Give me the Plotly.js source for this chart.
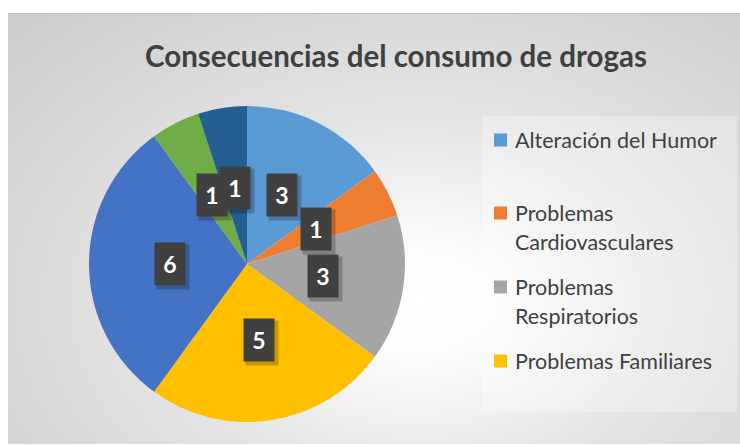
<!DOCTYPE html>
<html>
<head>
<meta charset="utf-8">
<script src="https://cdn.plot.ly/plotly-3.0.1.min.js"></script>
<style>
  html, body { margin: 0; padding: 0; background: #ffffff; }
  #wrap { position: relative; width: 740px; height: 445px; }
  #bg { position: absolute; left: 8px; top: 13px; width: 732px; height: 431px;
        background: radial-gradient(farthest-corner at 56% 67%, #ffffff 0%, #fdfdfd 12%, #e4e4e4 45%, #cbcbcb 100%);
        border-top: 1px solid #bdbdbd; box-sizing: border-box; }
  #legbg { position: absolute; left: 482px; top: 116px; width: 255px; height: 296px;
        background: rgba(255,255,255,0.3); }
  #chart { position: absolute; left: 0; top: 0; width: 740px; height: 445px; }
</style>
</head>
<body>
<div id="wrap">
  <div id="bg"></div>
  <div id="legbg"></div>
  <div id="chart"></div>
</div>
<script>
// ---- data ----
const categories = ["Alteración del Humor", "Problemas Cardiovasculares", "Problemas Respiratorios", "Problemas Familiares", "Categoría 5", "Categoría 6", "Categoría 7"];
const values = [3, 1, 3, 5, 6, 1, 1];
const sliceColors = ["#5B9BD5", "#ED7D31", "#A5A5A5", "#FFC000", "#4472C4", "#70AD47", "#255E91"];
const legendLines = [["Alteración del Humor"], ["Problemas", "Cardiovasculares"], ["Problemas", "Respiratorios"], ["Problemas Familiares"]];
const titleText = "Consecuencias del consumo de drogas";

// ---- layout constants ----
const W = 740, H = 445;
const pieCx = 247, pieCy = 264, pieR = 158;   // pixels
const dom = { x: [(pieCx - pieR) / W, (pieCx + pieR) / W], y: [(H - pieCy - pieR) / H, (H - pieCy + pieR) / H] };
const FONT = "Lato, 'Open Sans', sans-serif";

const trace = {
  type: "pie",
  labels: categories,
  values: values,
  sort: false,
  direction: "clockwise",
  rotation: 0,
  marker: { colors: sliceColors, line: { width: 0 } },
  textinfo: "none",
  hoverinfo: "label+value",
  domain: dom,
  showlegend: false
};

const annotations = [];
const shapes = [];

// data labels placed at mid-angle of each slice, computed from the values
const total = values.reduce((a, b) => a + b, 0);
const cxp = (dom.x[0] + dom.x[1]) / 2, cyp = (dom.y[0] + dom.y[1]) / 2;
let cum = 0;
const labelPos = values.map(v => {
  const mid = (cum + v / 2) / total * 2 * Math.PI;
  cum += v;
  const rr = pieR * 0.49;
  return { x: cxp + rr * Math.sin(mid) / W, y: cyp + rr * Math.cos(mid) / H, v: v };
});
// shadows first
labelPos.forEach(p => {
  annotations.push({
    xref: "paper", yref: "paper",
    x: p.x + 3 / W, y: p.y - 3 / H,
    text: " ", showarrow: false,
    bgcolor: "rgba(0,0,0,0.22)",
    width: 30, height: 42, borderpad: 1,
    xanchor: "center", yanchor: "middle"
  });
});
labelPos.forEach(p => {
  annotations.push({
    xref: "paper", yref: "paper",
    x: p.x, y: p.y,
    text: "<b>" + p.v + "</b>",
    showarrow: false,
    font: { family: FONT, size: 23, color: "#ffffff" },
    bgcolor: "#404040",
    width: 28, height: 40, borderpad: 1,
    xanchor: "center", yanchor: "middle", valign: "middle"
  });
});

// custom legend (first four entries, as shown in the reference)
const legTop = [140, 213, 287, 361];
const lineGap = 28.5;
legendLines.forEach((lines, i) => {
  const y0 = legTop[i];
  shapes.push({
    type: "rect", xref: "paper", yref: "paper",
    x0: 494 / W, x1: 507 / W, y0: (H - (y0 - 6.5)) / H, y1: (H - (y0 + 6.5)) / H,
    fillcolor: sliceColors[i], line: { width: 0 }
  });
  lines.forEach((t, j) => {
    annotations.push({
      xref: "paper", yref: "paper",
      x: 513 / W, y: (H - (y0 + j * lineGap)) / H,
      xanchor: "left", yanchor: "middle",
      text: t, showarrow: false,
      font: { family: FONT, size: 21.5, color: "#404040" }
    });
  });
});

const layout = {
  width: W, height: H,
  margin: { l: 0, r: 0, t: 0, b: 0 },
  paper_bgcolor: "rgba(0,0,0,0)",
  plot_bgcolor: "rgba(0,0,0,0)",
  title: {
    text: "<b>" + titleText + "</b>",
    x: 396 / W, xanchor: "center",
    y: (H - 57) / H, yanchor: "middle",
    font: { family: FONT, size: 29.5, color: "#404040" }
  },
  showlegend: false,
  annotations: annotations,
  shapes: shapes
};

Plotly.newPlot("chart", [trace], layout, { displayModeBar: false, staticPlot: true });
</script>
</body>
</html>
